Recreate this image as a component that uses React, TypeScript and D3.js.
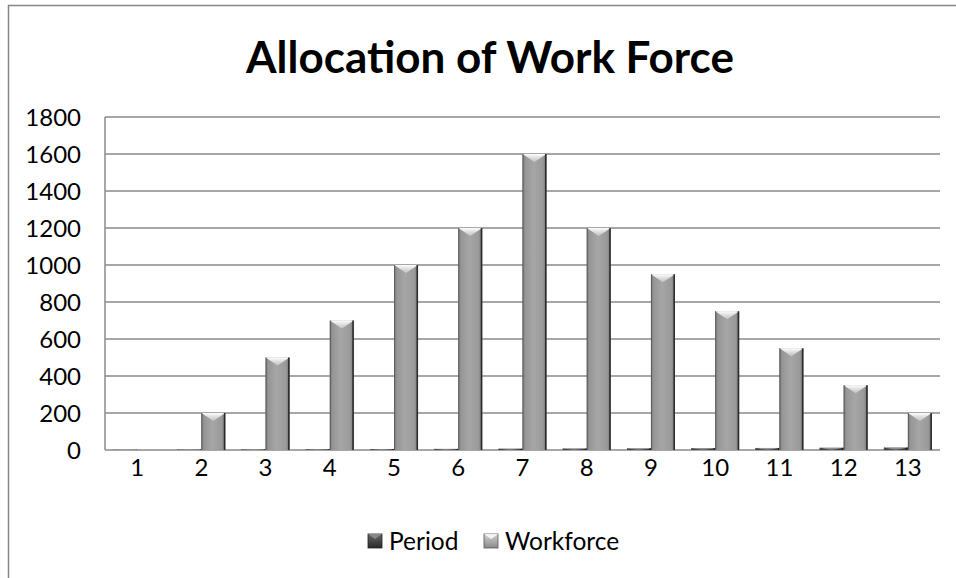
import React from "react";
import * as d3 from "d3";

const categories = ["1", "2", "3", "4", "5", "6", "7", "8", "9", "10", "11", "12", "13"];
const periodValues = [1, 2, 3, 4, 5, 6, 7, 8, 9, 10, 11, 12, 13];
const workforceValues = [0, 200, 500, 700, 1000, 1200, 1600, 1200, 950, 750, 550, 350, 200];
const yTicks = [0, 200, 400, 600, 800, 1000, 1200, 1400, 1600, 1800];
const seriesNames = ["Period", "Workforce"];

const W = 956;
const H = 578;
const left = 105;
const right = 940;
const top = 117;
const bottom = 450;
const FONT = "Lato, 'Open Sans', sans-serif";

export default function App() {
  const x = d3.scaleBand<string>().domain(categories).range([left, right]).padding(0);
  const xSub = d3
    .scaleBand<string>()
    .domain(seriesNames)
    .range([0, x.bandwidth()])
    .paddingInner(0)
    .paddingOuter(0.338);
  const y = d3.scaleLinear().domain([0, 1800]).range([bottom, top]);
  const bw = xSub.bandwidth();

  const series = [
    { name: "Period", values: periodValues, grad: "gP", top: "tP", edge: "#1e1e1e" },
    { name: "Workforce", values: workforceValues, grad: "gW", top: "tW", edge: "#2a2a2a" },
  ];

  return (
    <svg
      width={W}
      height={H}
      style={{ position: "absolute", left: 0, top: 0, background: "#fff" }}
    >
      <defs>
        <linearGradient id="gW" x1="0" x2="1" y1="0" y2="0">
          <stop offset="0" stopColor="#7c7c7c" />
          <stop offset="0.12" stopColor="#969696" />
          <stop offset="0.45" stopColor="#a6a6a6" />
          <stop offset="0.85" stopColor="#9a9a9a" />
          <stop offset="1" stopColor="#6e6e6e" />
        </linearGradient>
        <linearGradient id="gP" x1="0" x2="1" y1="0" y2="0">
          <stop offset="0" stopColor="#3a3a3a" />
          <stop offset="0.45" stopColor="#5a5a5a" />
          <stop offset="1" stopColor="#333" />
        </linearGradient>
        <linearGradient id="tW" x1="0" x2="0" y1="0" y2="1">
          <stop offset="0" stopColor="#ffffff" stopOpacity="1" />
          <stop offset="1" stopColor="#d8d8d8" stopOpacity="0.6" />
        </linearGradient>
        <linearGradient id="tP" x1="0" x2="0" y1="0" y2="1">
          <stop offset="0" stopColor="#aaaaaa" stopOpacity="1" />
          <stop offset="1" stopColor="#777" stopOpacity="0.6" />
        </linearGradient>
        <linearGradient id="legW" x1="0" x2="0" y1="0" y2="1">
          <stop offset="0" stopColor="#d0d0d0" />
          <stop offset="1" stopColor="#8a8a8a" />
        </linearGradient>
        <linearGradient id="legP" x1="0" x2="0" y1="0" y2="1">
          <stop offset="0" stopColor="#666" />
          <stop offset="1" stopColor="#2a2a2a" />
        </linearGradient>
      </defs>

      {/* outer chart border */}
      <rect x={8.5} y={5.5} width={W + 10} height={H + 10} fill="#fff" stroke="#868686" strokeWidth={1.5} />

      {/* title */}
      <text
        x={490}
        y={73}
        textAnchor="middle"
        fontFamily={FONT}
        fontWeight="bold"
        fontSize={44}
        fill="#000"
      >
        Allocation of Work Force
      </text>

      {/* gridlines */}
      {yTicks.map((t) => (
        <line key={t} x1={left} x2={right} y1={y(t)} y2={y(t)} stroke="#8a8a8a" strokeWidth={1.5} />
      ))}
      <line x1={left} x2={left} y1={top} y2={bottom} stroke="#8a8a8a" strokeWidth={1.5} />

      {/* y labels */}
      {yTicks.map((t) => (
        <text
          key={t}
          x={81}
          y={y(t)}
          dy="0.36em"
          textAnchor="end"
          fontFamily={FONT}
          fontSize={24}
          fill="#000"
        >
          {t}
        </text>
      ))}

      {/* bars */}
      {series.map((s) =>
        s.values.map((v, i) => {
          const x0 = (x(categories[i]) as number) + (xSub(s.name) as number);
          const y0 = y(v);
          const h = bottom - y0;
          if (h <= 0) return null;
          const bev = Math.min(8, h);
          return (
            <g key={s.name + i}>
              <rect x={x0} y={y0} width={bw} height={h} fill={`url(#${s.grad})`} />
              <path
                d={`M${x0},${y0}L${x0 + bw},${y0}L${x0 + bw / 2},${y0 + bev}Z`}
                fill={`url(#${s.top})`}
              />
              <line x1={x0 + bw - 0.75} x2={x0 + bw - 0.75} y1={y0} y2={bottom} stroke={s.edge} strokeWidth={1.5} />
              <line x1={x0 + 0.5} x2={x0 + 0.5} y1={y0} y2={bottom} stroke="#5a5a5a" strokeWidth={1} />
            </g>
          );
        })
      )}

      {/* x labels */}
      {categories.map((c) => (
        <text
          key={c}
          x={(x(c) as number) + x.bandwidth() / 2}
          y={467}
          dy="0.36em"
          textAnchor="middle"
          fontFamily={FONT}
          fontSize={24}
          fill="#000"
        >
          {c}
        </text>
      ))}

      {/* legend */}
      <g>
        <rect x={368} y={534} width={14} height={14} fill="url(#legP)" stroke="#222" strokeWidth={0.8} />
        <path d="M368,534L382,534L375,539Z" fill="#888" />
        <text x={389} y={541} dy="0.36em" fontFamily={FONT} fontSize={24.5} fill="#000">
          Period
        </text>
        <rect x={484} y={534} width={14} height={14} fill="url(#legW)" stroke="#555" strokeWidth={0.8} />
        <path d="M484,534L498,534L491,539Z" fill="#f4f4f4" />
        <text x={505} y={541} dy="0.36em" fontFamily={FONT} fontSize={24.5} fill="#000">
          Workforce
        </text>
      </g>
    </svg>
  );
}
